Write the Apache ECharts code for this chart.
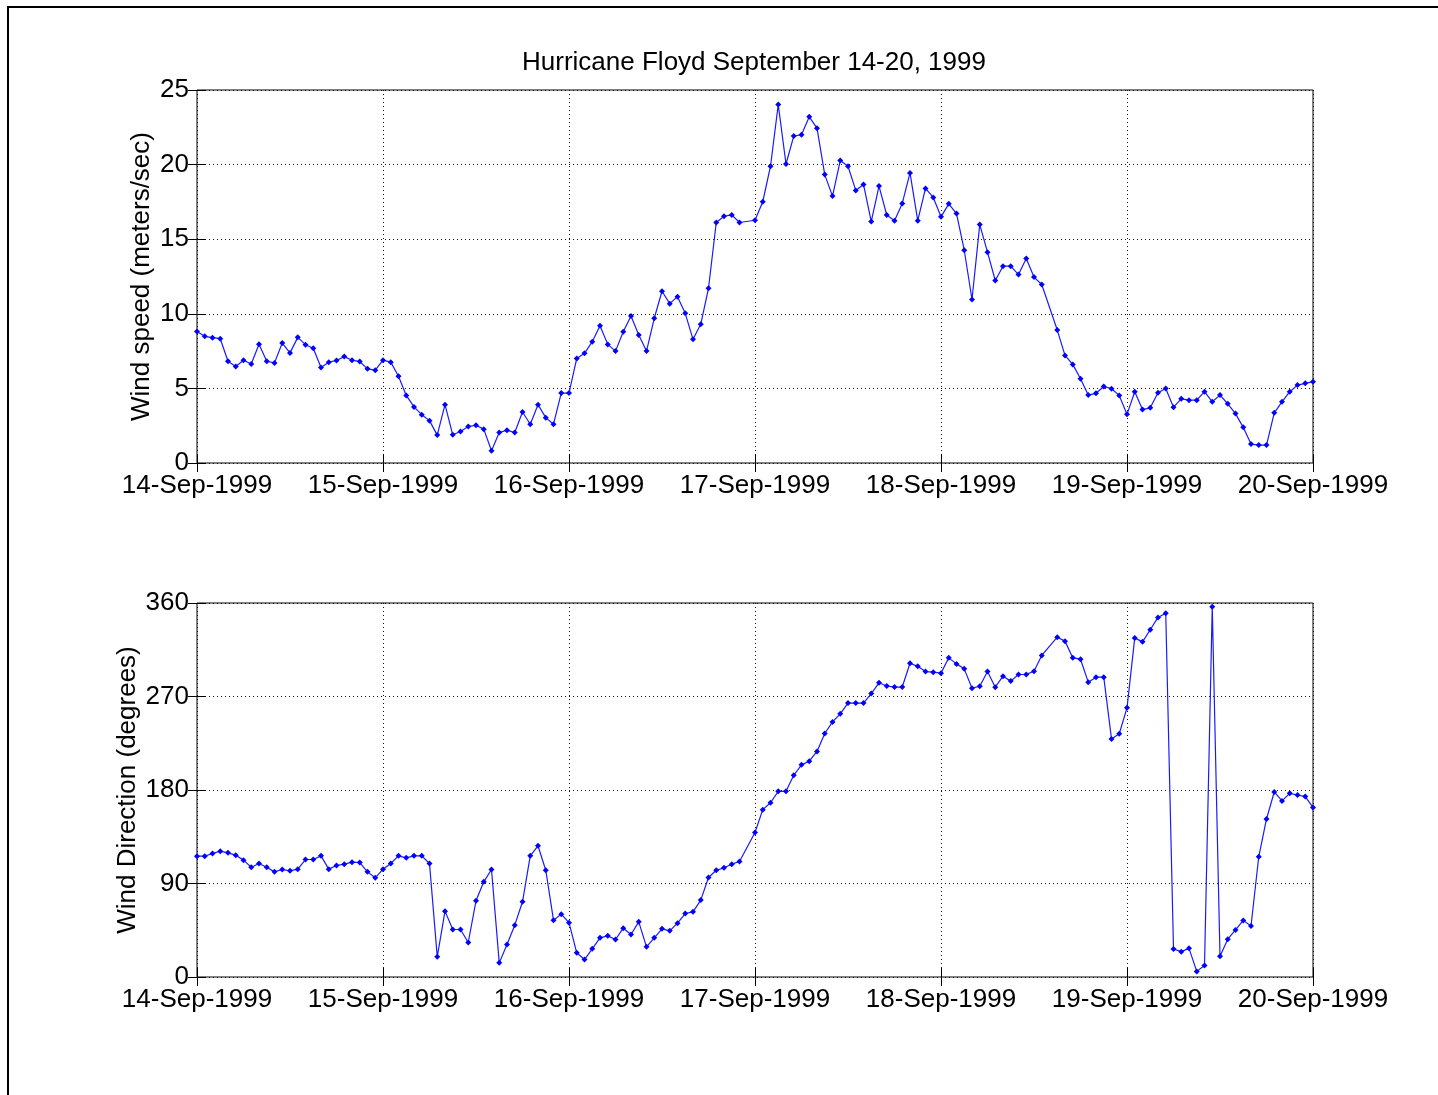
<!DOCTYPE html>
<html>
<head>
<meta charset="utf-8">
<script src="https://cdn.jsdelivr.net/npm/echarts@6/dist/echarts.min.js"></script>
<style>
  html, body { margin: 0; padding: 0; background: #fff; }
  #chart { width: 1438px; height: 1095px; }
  .frame { position: absolute; left: 7px; top: 6px; width: 1440px; height: 1100px;
           border-top: 2px solid #000; border-left: 2px solid #000; pointer-events: none; }
</style>
</head>
<body>
<div id="chart"></div>
<div class="frame"></div>
<script>
// tick labels, one per day (x in hours from 14-Sep-1999 00:00)
const dayLabels = ['14-Sep-1999', '15-Sep-1999', '16-Sep-1999', '17-Sep-1999',
                   '18-Sep-1999', '19-Sep-1999', '20-Sep-1999'];

// hourly wind speed (m/s), null = missing hour
const windSpeed = [
  8.82, 8.49, 8.4, 8.33, 6.82, 6.47, 6.89, 6.64, 7.96, 6.82, 6.71, 8.04,
  7.38, 8.42, 7.93, 7.69, 6.4, 6.76, 6.87, 7.13, 6.89, 6.8, 6.31, 6.22,
  6.89, 6.76, 5.82, 4.53, 3.76, 3.24, 2.84, 1.87, 3.91, 1.89, 2.11, 2.44,
  2.53, 2.27, 0.82, 2.04, 2.2, 2.04, 3.42, 2.6, 3.91, 3.04, 2.6, 4.69,
  4.69, 7.01, 7.35, 8.13, 9.2, 7.95, 7.5, 8.8, 9.85, 8.58, 7.5, 9.7,
  11.51, 10.68, 11.15, 10.03, 8.29, 9.3, 11.71, 16.12, 16.54, 16.63, 16.12, null,
  16.27, 17.51, 19.89, 24.02, 20.04, 21.91, 22.0, 23.2, 22.44, 19.33, 17.89, 20.27,
  19.89, 18.27, 18.67, 16.18, 18.56, 16.62, 16.24, 17.4, 19.44, 16.24, 18.4, 17.8,
  16.5, 17.37, 16.72, 14.26, 10.96, 15.98, 14.13, 12.23, 13.19, 13.19, 12.63, 13.71,
  12.46, 11.96, null, 8.91, 7.21, 6.61, 5.65, 4.55, 4.67, 5.13, 4.98, 4.53,
  3.26, 4.78, 3.58, 3.7, 4.71, 5.0, 3.74, 4.3, 4.21, 4.21, 4.78, 4.1,
  4.55, 3.97, 3.31, 2.39, 1.27, 1.2, 1.2, 3.36, 4.1, 4.78, 5.22, 5.34,
  5.45
];

// hourly wind direction (degrees)
const windDir = [
  116.3, 116.3, 118.9, 121.1, 119.5, 117.3, 112.5, 105.7, 109.3, 105.7, 101.2, 103.5,
  102.2, 103.8, 113.1, 113.1, 116.6, 103.8, 107.3, 108.6, 110.5, 110.2, 101.2, 95.5,
  103.8, 109.3, 116.6, 114.7, 116.6, 116.6, 109.3, 19.4, 63.4, 45.7, 45.7, 33.2,
  73.3, 91.6, 103.5, 13.6, 31.3, 49.9, 72.4, 116.6, 126.3, 102.8, 54.7, 60.5,
  52.3, 23.3, 16.8, 27.1, 37.7, 39.6, 36.1, 47.0, 40.9, 53.1, 29.0, 37.7,
  46.4, 44.4, 51.8, 61.1, 62.7, 74.0, 95.8, 102.8, 105.1, 108.6, 111.2, null,
  139.1, 161.1, 167.7, 178.7, 178.7, 194.2, 204.2, 207.7, 217.1, 234.4, 245.5, 253.3,
  263.7, 263.7, 263.7, 272.8, 283.2, 280.1, 279.1, 279.1, 302, 299, 294, 293.4,
  292.5, 307.2, 301.4, 296.6, 278.0, 279.9, 294.1, 279.0, 289.6, 284.8, 291.2, 291.2,
  294.4, 309.5, null, 327.1, 323.3, 307.2, 305.9, 283.8, 288.6, 288.6, 229.2, 234.1,
  259.1, 326.4, 322.6, 334.3, 346.1, 350.2, 26.9, 24.4, 27.6, 5.4, 11.1, 356.5,
  20.0, 36.4, 45.3, 54.5, 49.1, 115.7, 152.1, 178.1, 169.5, 176.8, 175.2, 173.7,
  163.2
];

const speedTicks = [0, 5, 10, 15, 20, 25];
const dirTicks = [0, 90, 180, 270, 360];

const FONT = 'Liberation Sans, Arial, sans-serif';
const FS = 26;
const toPairs = arr => arr.map((v, i) => [i, v]);

function xAxes(gridIndex) {
  const base = {
    gridIndex: gridIndex, type: 'value', min: 0, max: 144, interval: 24
  };
  return [
    Object.assign({}, base, {
      position: 'bottom',
      axisLine: { show: false },
      axisTick: { inside: true, length: 9, lineStyle: { color: '#000' } },
      axisLabel: {
        color: '#000', fontSize: FS, fontFamily: FONT, margin: 10,
        formatter: v => dayLabels[v / 24]
      },
      splitLine: { show: true, lineStyle: { color: '#111', type: [1, 3], width: 1 } }
    }),
    Object.assign({}, base, {
      position: 'top',
      axisLine: { show: false },
      axisTick: { inside: true, length: 9, lineStyle: { color: '#000' } },
      axisLabel: { show: false },
      splitLine: { show: false }
    })
  ];
}

function yAxes(gridIndex, ticks, name, gap) {
  const step = ticks[1] - ticks[0];
  const base = {
    gridIndex: gridIndex, type: 'value', min: ticks[0],
    max: ticks[ticks.length - 1], interval: step
  };
  return [
    Object.assign({}, base, {
      position: 'left',
      name: name, nameLocation: 'middle', nameGap: gap, nameRotate: 90,
      nameMoveOverlap: false,
      nameTextStyle: { color: '#000', fontSize: FS, fontFamily: FONT },
      axisLine: { show: false },
      axisTick: { inside: true, length: 9, lineStyle: { color: '#000' } },
      axisLabel: { color: '#000', fontSize: FS, fontFamily: FONT, margin: 8 },
      splitLine: { show: true, lineStyle: { color: '#111', type: [1, 3], width: 1 } }
    }),
    Object.assign({}, base, {
      position: 'right',
      axisLine: { show: false },
      axisTick: { inside: true, length: 9, lineStyle: { color: '#000' } },
      axisLabel: { show: false },
      splitLine: { show: false }
    })
  ];
}

function lineSeries(xi, yi, data) {
  return {
    type: 'line',
    xAxisIndex: xi, yAxisIndex: yi,
    data: toPairs(data),
    connectNulls: true,
    symbol: 'diamond', symbolSize: 6,
    showSymbol: true,
    lineStyle: { color: '#1a1aff', width: 1.2 },
    itemStyle: { color: '#0000ff' },
    animation: false
  };
}

const chart = echarts.init(document.getElementById('chart'));
chart.setOption({
  backgroundColor: '#fff',
  animation: false,
  title: {
    text: 'Hurricane Floyd September 14-20, 1999',
    left: 749, top: 45, textAlign: 'center',
    textStyle: { color: '#000', fontSize: FS, fontWeight: 'normal', fontFamily: FONT }
  },
  grid: [
    { left: 197, top: 90, width: 1116, height: 373, show: true,
      borderColor: '#000', borderWidth: 1, backgroundColor: 'transparent' },
    { left: 197, top: 603, width: 1116, height: 374, show: true,
      borderColor: '#000', borderWidth: 1, backgroundColor: 'transparent' }
  ],
  xAxis: xAxes(0).concat(xAxes(1)),
  yAxis: yAxes(0, speedTicks, 'Wind speed (meters/sec)', 42)
    .concat(yAxes(1, dirTicks, 'Wind Direction (degrees)', 56)),
  series: [
    lineSeries(0, 0, windSpeed),
    lineSeries(2, 2, windDir)
  ]
});
</script>
</body>
</html>
